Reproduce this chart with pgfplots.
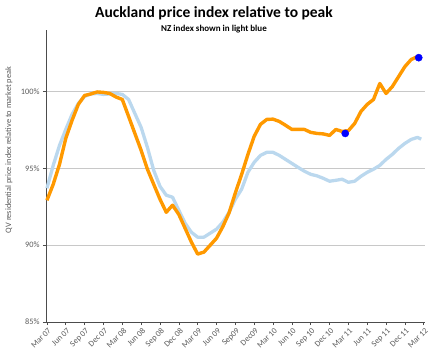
\documentclass[border=0pt]{standalone}
\usepackage{pgfplots}
\pgfplotsset{compat=1.18}
\usepackage{fontspec}
\setmainfont{Carlito}
\definecolor{akl}{RGB}{255,153,0}
\definecolor{nz}{RGB}{187,216,238}
\definecolor{gridc}{RGB}{200,200,200}
\definecolor{txt}{RGB}{90,90,90}
\begin{document}
\begin{tikzpicture}
\useasboundingbox (-46pt,-40pt) rectangle (385pt,322pt);
\begin{axis}[
  at={(0,0)}, anchor=south west,
  width=379pt, height=292pt, scale only axis,
  xmin=-0.15, xmax=60.2, ymin=85, ymax=104,
  axis x line*=bottom, axis y line*=left,
  axis line style={draw=black!70, line width=0.8pt},
  xtick={0,3,...,60},
  xticklabels={Mar 07,Jun 07,Sep 07,Dec 07,Mar 08,Jun 08,Sep 08,Dec 08,Mar 09,Jun 09,Sep09,Dec09,Mar 10,Jun 10,Sep 10,Dec 10,Mar 11,Jun 11,Sep 11,Dec 11,Mar 12},
  x tick label style={rotate=45, anchor=north east, font=\fontsize{8.3}{9}\selectfont, text=txt, inner sep=0.5pt, yshift=-1.5pt, xshift=-0.5pt},
  ytick={85,90,95,100},
  yticklabels={85\%,90\%,95\%,100\%},
  y tick label style={font=\fontsize{8.3}{9}\selectfont, text=txt},
  tick align=outside, tick style={black!70, line width=0.6pt}, major tick length=3pt,
  ymajorgrids, xmajorgrids=false, grid style={draw=gridc, line width=0.6pt},
  /pgf/number format/assume math mode=true,
  clip=false,
]
\addplot[nz, line width=3.3pt, line join=round] coordinates {
(0,93.70)(1,95.19)(2,96.49)(3,97.53)(4,98.51)(5,99.22)(6,99.68)(7,99.84)(8,99.87)(9,99.81)
(10,99.84)(11,99.87)(12,99.81)(13,99.48)(14,98.57)(15,97.66)(16,96.36)(17,94.87)(18,93.83)(19,93.25)
(20,93.12)(21,92.27)(22,91.43)(23,90.84)(24,90.52)(25,90.52)(26,90.78)(27,91.04)(28,91.49)(29,92.14)
(30,92.99)(31,93.64)(32,94.74)(33,95.39)(34,95.84)(35,96.04)(36,96.04)(37,95.84)(38,95.58)(39,95.32)
(40,95.06)(41,94.81)(42,94.61)(43,94.51)(44,94.35)(45,94.16)(46,94.22)(47,94.29)(48,94.09)(49,94.16)
(50,94.48)(51,94.74)(52,94.94)(53,95.19)(54,95.58)(55,95.91)(56,96.30)(57,96.62)(58,96.88)(59,97.01)(59.6,96.90)
};
\addplot[akl, line width=3.4pt, line join=round] coordinates {
(0,92.92)(1,93.96)(2,95.26)(3,96.95)(4,98.12)(5,99.16)(6,99.74)(7,99.84)(8,99.97)(9,99.94)
(10,99.87)(11,99.64)(12,99.48)(13,98.38)(14,97.27)(15,96.17)(16,94.94)(17,93.96)(18,92.99)(19,92.14)
(20,92.60)(21,92.00)(22,91.10)(23,90.20)(24,89.42)(25,89.55)(26,90.00)(27,90.45)(28,91.20)(29,92.10)
(30,93.40)(31,94.60)(32,95.90)(33,97.08)(34,97.86)(35,98.18)(36,98.20)(37,98.05)(38,97.80)(39,97.53)
(40,97.53)(41,97.53)(42,97.34)(43,97.27)(44,97.24)(45,97.14)(46,97.53)(47,97.40)(48,97.45)(49,97.92)
(50,98.70)(51,99.16)(52,99.48)(53,100.52)(54,99.87)(55,100.32)(56,100.97)(57,101.62)(58,102.08)(59,102.27)
};
\addplot[only marks, mark=*, mark size=3.6pt, mark options={fill=blue, draw=blue}] coordinates {
(47.5,97.27)(59.2,102.2)
};
\end{axis}
\node[font=\fontsize{15.5}{18}\selectfont\bfseries] at (168pt,309pt) {Auckland price index relative to peak};
\node[font=\fontsize{9}{10}\selectfont\bfseries] at (168pt,293pt) {NZ index shown in light blue};
\node[rotate=90, font=\fontsize{8.3}{9}\selectfont, text=txt] at (-37pt,172pt) {QV residential price index relative to market peak};
\end{tikzpicture}
\end{document}
